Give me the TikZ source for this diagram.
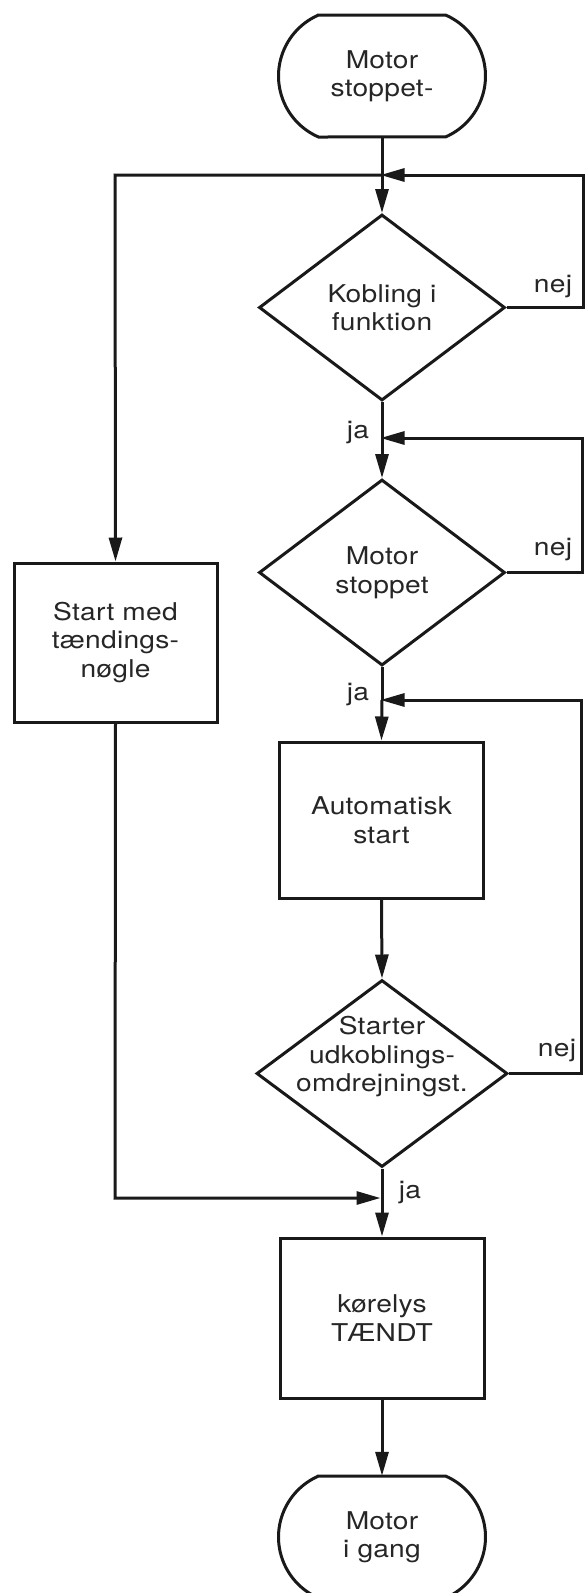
\documentclass[tikz,border=0pt]{standalone}
\usepackage{fontspec}
\setmainfont{TeX Gyre Heros}[FakeStretch=1.15,LetterSpace=1]
\usetikzlibrary{arrows.meta,shapes.geometric,calc}
\newcommand\termoutline[1]{%
  \draw[shapeline] ($(#1.center)+(-63.5,61)$) -- ($(#1.center)+(63.5,61)$)
    arc[start angle=66.5,end angle=-66.5,radius=66.5]
    -- ($(#1.center)+(-63.5,-61)$)
    arc[start angle=-113.5,end angle=-246.5,radius=66.5] -- cycle;}
\begin{document}
\begin{tikzpicture}[x=1pt,y=1pt,
  shapeline/.style={draw=black!90, line width=3pt},
  txt/.style={font=\fontsize{24.5}{28.5}\selectfont, text=black!85, align=center, inner sep=0pt},
  procbox/.style={rectangle, shapeline, minimum width=204, minimum height=158, txt},
  decision/.style={diamond, shapeline, inner sep=0pt, minimum width=246, minimum height=186},
  term/.style={rectangle, minimum width=207, minimum height=122, txt},
  conn/.style={draw=black!90, line width=3pt},
  arr/.style={conn, -{Triangle[length=24pt,width=13pt]}},
  lab/.style={font=\fontsize{24.5}{28}\selectfont, text=black!85, inner sep=0pt},
]
\clip (0,0) rectangle (585,-1593);
\fill[white] (0,0) rectangle (585,-1593);

\node[term] (t1) at (382,-76) {Motor\\stoppet-};
\termoutline{t1}
\coordinate (j1) at (382,-175);
\node[decision] (d1) at (382,-307.5) {};
\node[txt] (d1t) at (d1.center) {Kobling i\\funktion};
\coordinate (j2) at (382,-438);
\node[decision] (d2) at (382,-572.5) {};
\node[txt] (d2t) at (d2.center) {Motor\\stoppet};
\coordinate (j3) at (382,-700);
\node[procbox, minimum height=156] (a) at (381.5,-820) {Automatisk\\start};
\node[decision, minimum width=251, minimum height=187] (d3) at (382,-1073.5) {};
\node[txt] (d3t) at (382,-1057) {Starter\\udkoblings-\\omdrejningst.};
\coordinate (j4) at (382,-1198);
\node[procbox, minimum height=160] (k) at (382,-1318) {kørelys\\TÆNDT};
\node[term] (t2) at (382,-1537) {Motor\\i gang};
\termoutline{t2}
\node[procbox, minimum width=203, minimum height=159] (s) at (115.5,-642.5) {Start med\\tændings-\\nøgle};

\coordinate (l1) at (115,-175);
\coordinate (l2) at (115,-1198);
\coordinate (r1) at (583,-175);
\coordinate (r2) at (582,-438);
\coordinate (r3) at (581,-700);

\draw[conn] (t1.south) -- (j1);
\draw[arr] (j1) -- (d1.north);
\draw[arr, shorten >=-1.5pt] (d1.east) -- (d1.east -| r1) -- (r1) -- (j1);
\draw[arr] (j1) -- (l1) -- (s.north);
\draw[arr, shorten >=1.5pt] (s.south) -- (l2) -- (j4);
\draw[conn] (d1.south) -- (j2);
\draw[arr] (j2) -- (d2.north);
\draw[arr, shorten >=-1.5pt] (d2.east) -- (d2.east -| r2) -- (r2) -- (j2);
\draw[conn] (d2.south) -- (j3);
\draw[arr] (j3) -- (a.north);
\draw[arr] (a.south) -- (d3.north);
\draw[arr, shorten >=-1.5pt] (d3.east) -- (d3.east -| r3) -- (r3) -- (j3);
\draw[conn] (d3.south) -- (j4);
\draw[arr] (j4) -- (k.north);
\draw[arr] (k.south) -- (t2.north);

\node[lab] (n1) at (553,-287) {nej};
\node[lab] (n2) at (553,-550) {nej};
\node[lab] (n3) at (557,-1050) {nej};
\node[lab] (y1) at (358,-433) {ja};
\node[lab] (y2) at (358,-695) {ja};
\node[lab] (y3) at (410,-1192) {ja};
\end{tikzpicture}
\end{document}
